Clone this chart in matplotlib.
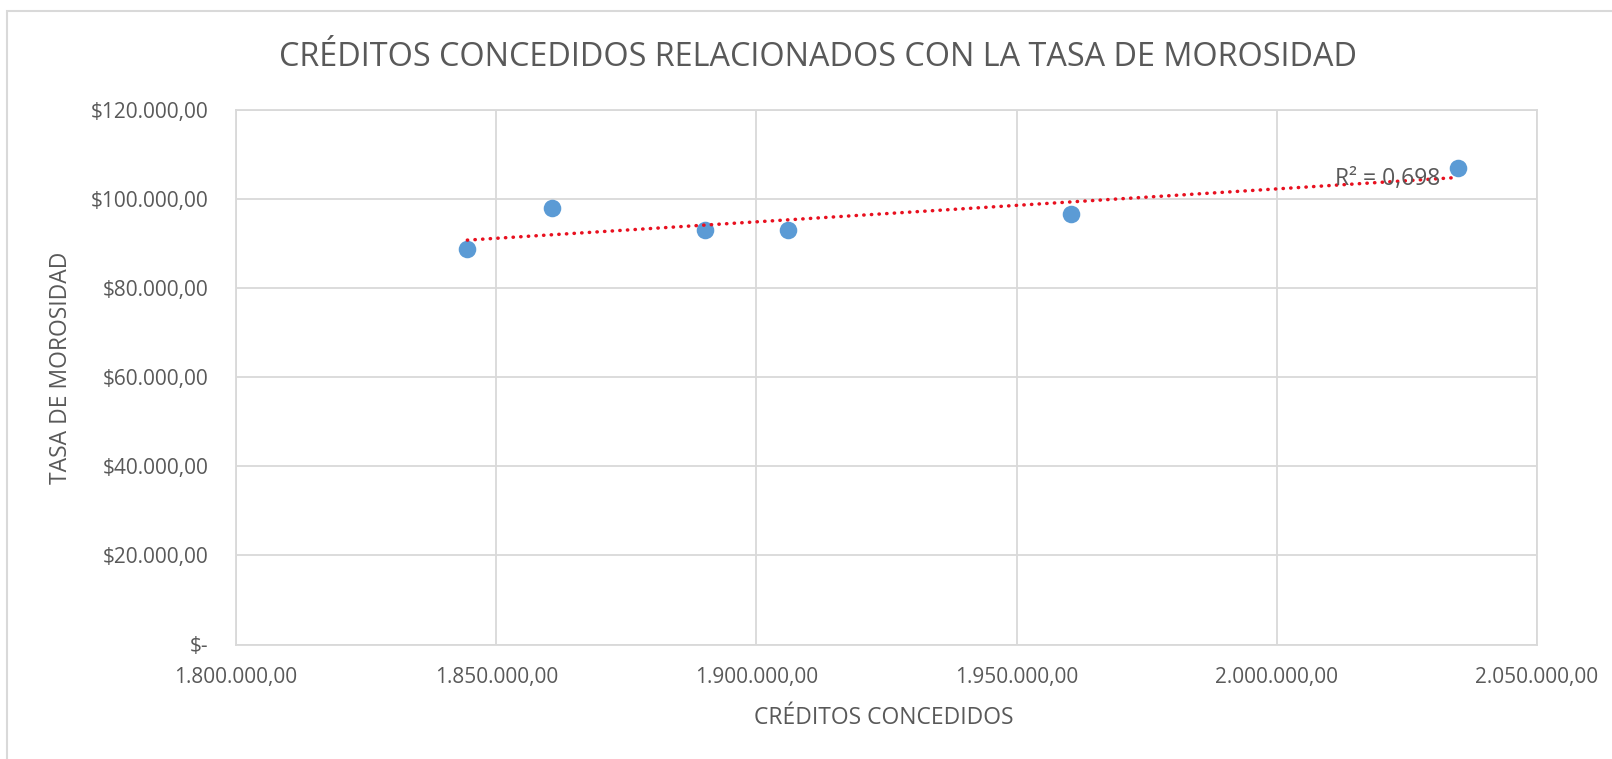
"""
Créditos concedidos vs. tasa de morosidad (dispersión con línea de tendencia lineal)
"""

import numpy as np
import matplotlib.pyplot as plt
from matplotlib.ticker import FuncFormatter, MultipleLocator
from matplotlib.patches import Rectangle

# Datos
creditos = [1844450, 1860670, 1890120, 1906130, 1960400, 2034800]
morosidad = [88750, 98050, 93000, 93000, 96700, 107000]
r2_texto = "R² = 0,698"

titulo = "CRÉDITOS CONCEDIDOS RELACIONADOS CON LA TASA DE MOROSIDAD"
etiqueta_x = "CRÉDITOS CONCEDIDOS"
etiqueta_y = "TASA DE MOROSIDAD"

GRIS_TEXTO = "#595959"
GRIS_LINEA = "#D9D9D9"
AZUL = "#5B9BD5"
ROJO = "#E8101F"

plt.rcParams["font.family"] = ["Open Sans", "DejaVu Sans"]


def miles(v, decimales=2):
    s = f"{v:,.{decimales}f}"
    return s.replace(",", "X").replace(".", ",").replace("X", ".")


def fmt_x(v, pos):
    return miles(v)


def fmt_y(v, pos):
    if abs(v) < 1e-6:
        return "$-"
    return "$" + miles(v)


fig = plt.figure(figsize=(16.12, 7.59), dpi=100)

# Borde exterior del área del gráfico (solo visibles arriba e izquierda)
fig.patches.append(
    Rectangle((7 / 1612, -0.1), 1.2, 1 - 11 / 759 + 0.1, transform=fig.transFigure,
              fill=False, edgecolor=GRIS_LINEA, linewidth=1.5)
)

ax = fig.add_axes([236 / 1612, 1 - 644.5 / 759, 1301 / 1612, 534.5 / 759])

ax.set_xlim(1800000, 2050000)
ax.set_ylim(0, 120000)
ax.xaxis.set_major_locator(MultipleLocator(50000))
ax.yaxis.set_major_locator(MultipleLocator(20000))
ax.xaxis.set_major_formatter(FuncFormatter(fmt_x))
ax.yaxis.set_major_formatter(FuncFormatter(fmt_y))

ax.grid(True, color=GRIS_LINEA, linewidth=1.3)
ax.set_axisbelow(True)
for sp in ax.spines.values():
    sp.set_color(GRIS_LINEA)
    sp.set_linewidth(1.3)
ax.tick_params(length=0, colors=GRIS_TEXTO, labelsize=15)
ax.tick_params(axis="x", pad=16.5)
ax.tick_params(axis="y", pad=20)

# Puntos
ax.scatter(creditos, morosidad, s=160, color=AZUL, zorder=3, linewidths=0)

# Tendencia lineal
x = np.array(creditos, dtype=float)
y = np.array(morosidad, dtype=float)
m, b = np.polyfit(x, y, 1)
xt = np.array([x.min(), x.max()])
ax.plot(xt, m * xt + b, linestyle=(0, (0.1, 2.1)), dash_capstyle="round",
        color=ROJO, linewidth=2.5, zorder=4)
ax.text(2031500, m * 2031500 + b, r2_texto, ha="right", va="center",
        fontsize=16.5, color=GRIS_TEXTO, zorder=5)

fig.text(818 / 1612, 1 - 58 / 759, titulo, ha="center", va="center",
         fontsize=23.3, color=GRIS_TEXTO)
fig.text(884 / 1612, 1 - 718 / 759, etiqueta_x, ha="center", va="center",
         fontsize=16.5, color=GRIS_TEXTO)
fig.text(61 / 1612, 1 - 368 / 759, etiqueta_y, ha="center", va="center",
         rotation=90, fontsize=16.5, color=GRIS_TEXTO)

fig.savefig("out.png", dpi=100)
